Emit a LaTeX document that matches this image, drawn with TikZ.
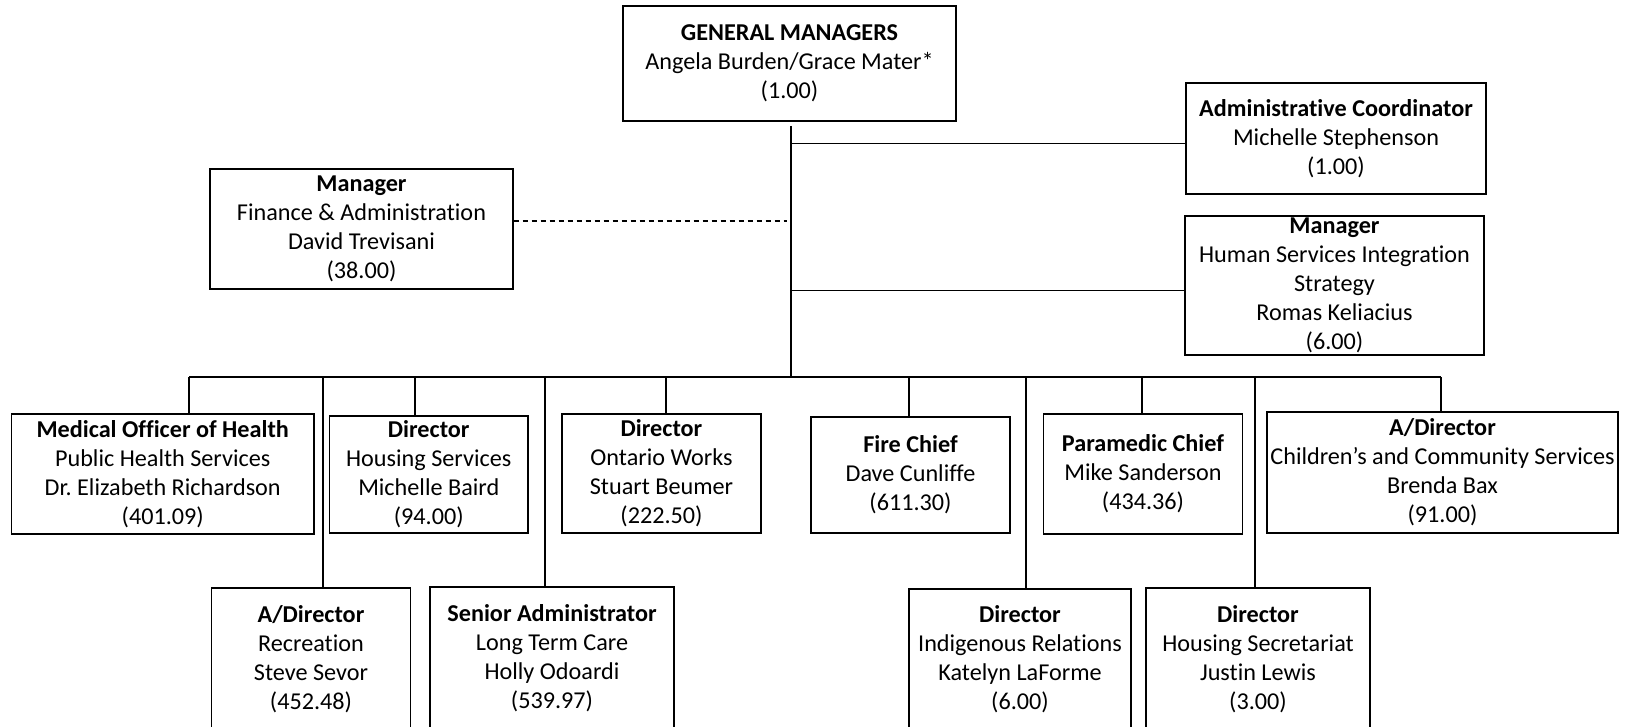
\documentclass[tikz,border=0pt]{standalone}
\usepackage{fontspec}
\setmainfont{Carlito}[Ligatures=NoCommon]
\frenchspacing
\begin{document}
\begin{tikzpicture}[x=1pt,y=-1pt,
  box/.style={draw, line width=1.4pt, align=center, inner sep=1pt, font=\fontsize{24.2}{29}\selectfont},
  link/.style={line width=1.3pt},
  dotlink/.style={line width=1.3pt, dash pattern=on 5pt off 4pt}]
\useasboundingbox (0,0) rectangle (1631,727);
% top level
\node[box, minimum width=333pt, minimum height=115pt] (gm) at (789.5,63.5) {\textbf{GENERAL MANAGERS}\\Angela Burden/Grace Mater*\\(1.00)};
\node[box, minimum width=303pt, minimum height=120pt] (fin) at (361.5,229) {\textbf{Manager}\\Finance \& Administration\\David Trevisani\\(38.00)};
\node[box, minimum width=300pt, minimum height=111pt] (adm) at (1336,138.5) {\textbf{Administrative Coordinator}\\Michelle Stephenson\\(1.00)};
\node[box, minimum width=299pt, minimum height=139pt] (hsi) at (1334.5,285.5) {\textbf{Manager}\\Human Services Integration\\Strategy\\Romas Keliacius\\(6.00)};
% second row
\node[box, minimum width=302.5pt, minimum height=120pt] (moh) at (162.75,474) {\textbf{Medical Officer of Health}\\Public Health Services\\Dr. Elizabeth Richardson\\(401.09)};
\node[box, minimum width=198.5pt, minimum height=117pt] (hous) at (428.75,474.5) {\textbf{Director}\\Housing Services\\Michelle Baird\\(94.00)};
\node[box, minimum width=199pt, minimum height=119pt] (ow) at (661.5,473.5) {\textbf{Director}\\Ontario Works\\Stuart Beumer\\(222.50)};
\node[box, minimum width=199pt, minimum height=116pt] (fire) at (910.5,475) {\textbf{Fire Chief}\\Dave Cunliffe\\(611.30)};
\node[box, minimum width=198.5pt, minimum height=120pt] (para) at (1143,474) {\textbf{Paramedic Chief}\\Mike Sanderson\\(434.36)};
\node[box, minimum width=351pt, minimum height=121pt] (child) at (1442.5,472.5) {\textbf{A/Director}\\Children’s and Community Services\\Brenda Bax\\(91.00)};
% third row
\node[box, minimum width=198.5pt, minimum height=142pt] (rec) at (311,659) {\textbf{A/Director}\\Recreation\\Steve Sevor\\(452.48)};
\node[box, minimum width=244pt, minimum height=143pt] (ltc) at (552,658.5) {\textbf{Senior Administrator}\\Long Term Care\\Holly Odoardi\\(539.97)};
\node[box, minimum width=222pt, minimum height=141pt] (ind) at (1020,659.5) {\textbf{Director}\\Indigenous Relations\\Katelyn LaForme\\(6.00)};
\node[box, minimum width=224pt, minimum height=142pt] (hsec) at (1258,659) {\textbf{Director}\\Housing Secretariat\\Justin Lewis\\(3.00)};
% trunk and bus
\coordinate (t0) at (791,126);
\coordinate (tb) at (791,377);
\coordinate (bl) at (189,377);
\coordinate (br) at (1441,377);
\draw[link] (t0) -- (tb);
\draw[link] (bl) -- (br);
% side links
\coordinate (a1) at (791,143.5);
\draw[link] (a1) -- (a1 -| adm.west);
\coordinate (h1) at (791,290.5);
\draw[link] (h1) -- (h1 -| hsi.west);
\coordinate (d1) at (787,221);
\draw[dotlink] (d1 -| fin.east) -- (d1);
% drops
\foreach \x/\n in {189/moh,323/rec,415/hous,545/ltc,666/ow,909/fire,1026/ind,1142/para,1255/hsec,1441/child}{
  \coordinate (dd) at (\x,377);
  \draw[link] (dd) -- (dd |- \n.north);
}
\end{tikzpicture}
\end{document}
